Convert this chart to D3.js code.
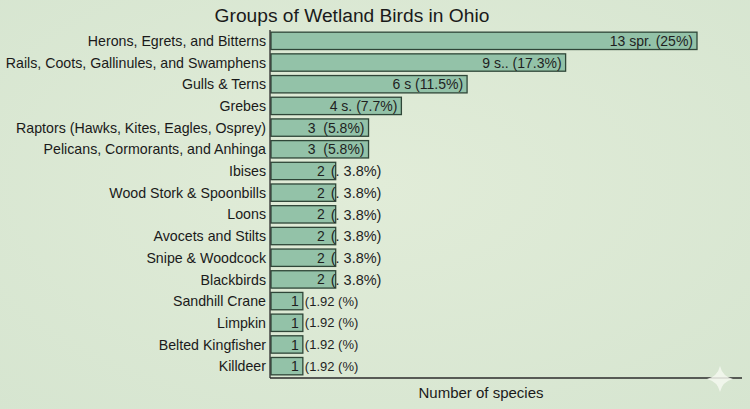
<!DOCTYPE html>
<html>
<head>
<meta charset="utf-8">
<script src="https://cdn.jsdelivr.net/npm/d3@7"></script>
<style>
  body { margin: 0; background: #dde9d5; }
  svg { display: block; font-family: "Liberation Sans", Arial, sans-serif; }
  text { white-space: pre; }
</style>
</head>
<body>
<svg id="chart" width="750" height="409"></svg>
<script>
// groups, counts and the label text shown on each bar
const groups = ["Herons, Egrets, and Bitterns", "Rails, Coots, Gallinules, and Swamphens",
  "Gulls & Terns", "Grebes", "Raptors (Hawks, Kites, Eagles, Osprey)",
  "Pelicans, Cormorants, and Anhinga", "Ibises", "Wood Stork & Spoonbills", "Loons",
  "Avocets and Stilts", "Snipe & Woodcock", "Blackbirds", "Sandhill Crane", "Limpkin",
  "Belted Kingfisher", "Killdeer"]
const counts = [13, 9, 6, 4, 3, 3, 2, 2, 2, 2, 2, 2, 1, 1, 1, 1]
const innerLabels = ["13 spr. (25%)", "9 s.. (17.3%)", "6 s (11.5%)", "4 s. (7.7%)",
  "3  (5.8%)", "3  (5.8%)", "2", "2", "2", "2", "2", "2", "1", "1", "1", "1"]
const outerLabels = ["", "", "", "", "", "", "(. 3.8%)", "(. 3.8%)", "(. 3.8%)", "(. 3.8%)",
  "(. 3.8%)", "(. 3.8%)", "(1.92 (%)", "(1.92 (%)", "(1.92 (%)", "(1.92 (%)"]

const svg = d3.select("#chart")
const plotL = 270, plotR = 742, plotT = 30, plotB = 378

// soft background
const defs = svg.append("defs")
const grad = defs.append("radialGradient").attr("id", "bg").attr("cx", "50%").attr("cy", "45%").attr("r", "75%")
grad.append("stop").attr("offset", "0%").attr("stop-color", "#e1ecd8")
grad.append("stop").attr("offset", "100%").attr("stop-color", "#d6e5d0")
svg.append("rect").attr("width", 750).attr("height", 409).attr("fill", "url(#bg)")

const x = d3.scaleLinear().domain([0, 13]).range([plotL, 697])
const y = d3.scaleBand().domain(groups).range([plotT, plotB - 1]).paddingInner(0.2).paddingOuter(0.1)
const mid = d => y(d) + y.bandwidth() / 2

svg.append("text")
  .attr("x", 352).attr("y", 22)
  .attr("text-anchor", "middle")
  .attr("font-size", 19.2).attr("fill", "#1a1a1a")
  .text("Groups of Wetland Birds in Ohio")

// bars
svg.selectAll("rect.bar").data(groups).join("rect")
  .attr("class", "bar")
  .attr("x", x(0) + 1)
  .attr("y", d => y(d))
  .attr("width", (d, i) => x(counts[i]) - x(0) - 1)
  .attr("height", y.bandwidth())
  .attr("fill", "#93c2a8")
  .attr("stroke", "#2f4638")
  .attr("stroke-width", 1.3)

// category labels
svg.selectAll("text.cat").data(groups).join("text")
  .attr("class", "cat")
  .attr("x", plotL - 4)
  .attr("y", mid)
  .attr("dy", "0.36em")
  .attr("text-anchor", "end")
  .attr("font-size", 14.2).attr("fill", "#1a1a1a")
  .text(d => d)

// value labels inside the bars
svg.selectAll("text.val").data(groups).join("text")
  .attr("class", "val")
  .attr("x", (d, i) => x(counts[i]) - (counts[i] == 2 ? 11 : 4))
  .attr("y", mid)
  .attr("dy", "0.36em")
  .attr("text-anchor", "end")
  .attr("font-size", 14).attr("fill", "#1f1f1f")
  .text((d, i) => innerLabels[i])

// percentages that spill past the short bars
svg.selectAll("text.out").data(groups).join("text")
  .attr("class", "out")
  .attr("x", (d, i) => x(counts[i]) + (counts[i] == 1 ? 2 : -5))
  .attr("y", mid)
  .attr("dy", "0.36em")
  .attr("font-size", (d, i) => counts[i] == 1 ? 13 : 14.5).attr("fill", "#1f1f1f")
  .text((d, i) => outerLabels[i])

// axes lines
svg.append("line").attr("x1", plotL).attr("x2", plotL).attr("y1", plotT).attr("y2", plotB)
  .attr("stroke", "#2b2b2b").attr("stroke-width", 1.3)
svg.append("line").attr("x1", plotL).attr("x2", plotR).attr("y1", plotB).attr("y2", plotB)
  .attr("stroke", "#2b2b2b").attr("stroke-width", 1.3)

svg.append("text")
  .attr("x", 481).attr("y", 398)
  .attr("text-anchor", "middle")
  .attr("font-size", 15).attr("fill", "#1a1a1a")
  .text("Number of species")

// faint sparkle in the corner
const sx = 720, sy = 379, r = 13, k = 2.5
svg.append("path")
  .attr("d", `M${sx},${sy - r} Q${sx + k},${sy - k} ${sx + r},${sy} Q${sx + k},${sy + k} ${sx},${sy + r} Q${sx - k},${sy + k} ${sx - r},${sy} Q${sx - k},${sy - k} ${sx},${sy - r}Z`)
  .attr("fill", "#f4f8f0").attr("opacity", 0.85)
</script>
</body>
</html>
